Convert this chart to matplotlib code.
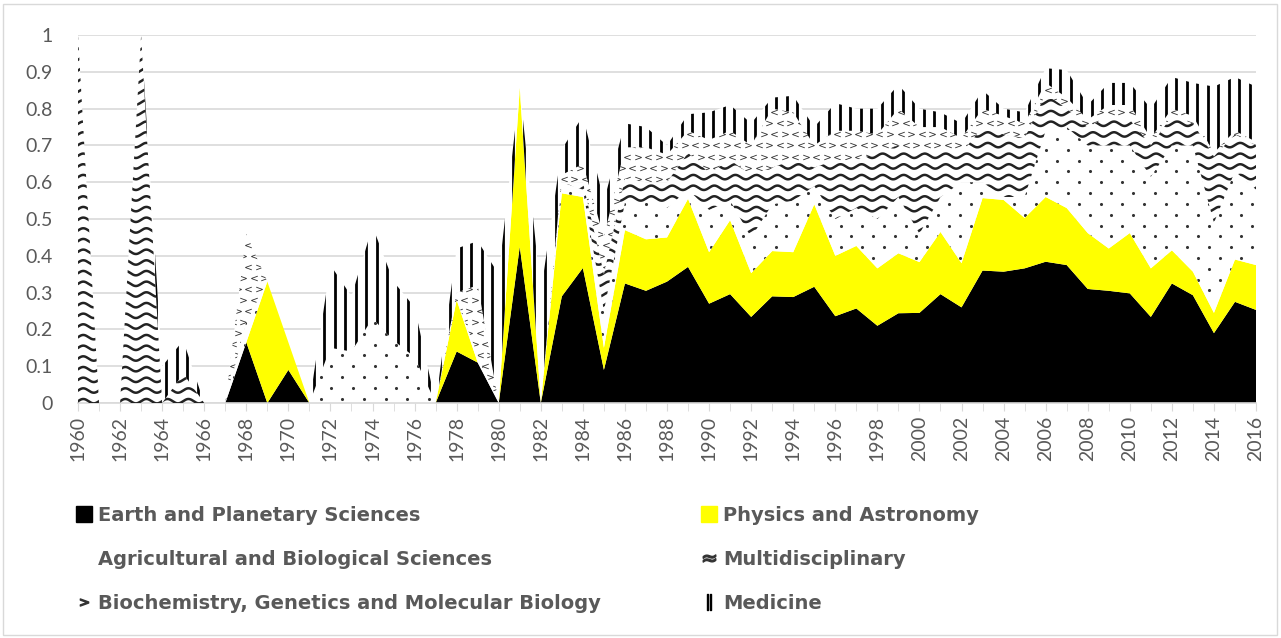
import numpy as np
import matplotlib
matplotlib.use("Agg")
import matplotlib.pyplot as plt
from matplotlib.lines import Line2D
from matplotlib.patches import Rectangle

# data (share of papers per year)
years = np.arange(1960, 2017)

earth = [0, 0, 0, 0, 0, 0, 0, 0, .165, 0, .09, 0, 0, 0, 0, 0, 0, 0, .14, .11,
         0, .425, 0, .29, .367, .09, .325, .305, .33, .37, .27, .296, .234, .29, .288, .316,
         .236, .257, .21, .244, .245, .296, .26, .36, .357, .366, .384, .375, .31, .305,
         .298, .234, .325, .293, .19, .275, .253]
physics = [0, 0, 0, 0, 0, 0, 0, 0, 0, .33, .075, 0, 0, 0, 0, 0, 0, 0, .14, 0,
           0, .431, 0, .28, .193, .06, .145, .14, .12, .185, .14, .201, .119, .123, .122, .224,
           .164, .17, .156, .163, .138, .169, .12, .197, .195, .137, .176, .155, .152, .115,
           .164, .132, .09, .064, .055, .115, .122]
agricultural = [0, 0, 0, 0, 0, 0, 0, 0, .055, 0, 0, 0, .15, .14, .23, .17, .125, 0, 0, .02,
                0, 0, 0, .03, .02, .10, .075, .10, .08, .025, .115, .053, .097, .127, .14, .05,
                .10, .103, .134, .153, .077, .095, .22, .043, .008, .057, .18, .22, .238, .28,
                .238, .249, .285, .343, .245, .24, .205]
multidisciplinary = [1, 0, 0, 1, 0, .08, 0, 0, 0, 0, 0, 0, 0, 0, 0, 0, 0, 0, 0, 0,
                     0, 0, 0, 0, .02, .10, .065, .055, .07, .10, .10, .11, .17, .10, .11, .05,
                     .16, .13, .18, .14, .22, .13, .08, .15, .17, .16, .10, .05, .05, .08,
                     .07, .085, .08, .06, .18, .10, .12]
biochemistry = [0, 0, 0, 0, 0, 0, 0, 0, .24, 0, 0, 0, 0, 0, 0, 0, 0, 0, .02, .19,
                0, 0, 0, .02, .05, .10, .085, .095, .075, .06, .09, .08, .08, .16, .13, .06,
                .08, .08, .05, .10, .07, .06, .04, .05, .05, .04, .03, .03, .02, .03,
                .04, .02, .02, .02, .01, .01, .01]
medicine = [0, 0, 0, 0, .10, .09, 0, 0, 0, 0, 0, 0, .225, .15, .25, .16, .135, 0, .12, .12,
            .35, 0, .30, .07, .13, .10, .065, .055, .025, .045, .075, .07, .06, .03, .045, .05,
            .075, .06, .07, .065, .05, .04, .04, .05, .02, .03, .04, .075, .04, .06,
            .06, .08, .086, .09, .18, .146, .15]

labels = ["Earth and Planetary Sciences", "Physics and Astronomy",
          "Agricultural and Biological Sciences", "Multidisciplinary",
          "Biochemistry, Genetics and Molecular Biology", "Medicine"]

grey = "#595959"
plt.rcParams["font.family"] = ["Lato", "DejaVu Sans"]

fig = plt.figure(figsize=(12.81, 6.38), dpi=100)
ax = fig.add_axes([0.0609, 0.3683, 0.9196, 0.5767])

polys = ax.stackplot(years, earth, physics, agricultural, multidisciplinary,
                     biochemistry, medicine,
                     colors=["black", "#ffff00", "white", "white", "white", "white"],
                     linewidth=0)

def clip_to(artist, poly):
    artist.set_clip_path(poly.get_paths()[0], ax.transData)

# Agricultural: staggered dot grid
pa = polys[2]
for k, y0 in enumerate(np.arange(0.012, 1.0, 0.0294)):
    xs = np.arange(1960.2 + (k % 2) * 0.515, 2016.5, 1.03)
    sc = ax.scatter(xs, np.full_like(xs, y0), s=5, color="#333333", linewidths=0, zorder=3)
    clip_to(sc, pa)

# Multidisciplinary: wavy lines
pm = polys[3]
xw = np.linspace(1960, 2016, 4000)
for y0 in np.arange(0.005, 1.03, 0.029):
    ln, = ax.plot(xw, y0 + 0.006 * np.sin(2 * np.pi * (xw - 1960)), color="#222222",
                  lw=1.8, zorder=3)
    clip_to(ln, pm)

# Biochemistry: little chevrons
pb = polys[4]
for k, y0 in enumerate(np.arange(0.01, 1.0, 0.03)):
    xs = np.arange(1960.1 + (k % 2) * 0.25, 2016.5, 0.5)
    for i, m in enumerate([r"$<$", r"$>$"]):
        sc = ax.scatter(xs[i::2], np.full(len(xs[i::2]), y0), marker=m, s=22,
                        color="#333333", linewidths=0, zorder=3)
        clip_to(sc, pb)

# Medicine: vertical stripes
pmed = polys[5]
vl = ax.vlines(np.arange(1960.2, 2016.5, 0.5), 0, 1.02, color="black", lw=2.0, zorder=3)
clip_to(vl, pmed)

ax.set_xlim(1960, 2016)
ax.set_ylim(0, 1)
ax.set_yticks(np.arange(0, 1.01, 0.1))
ax.set_yticklabels(["0", "0.1", "0.2", "0.3", "0.4", "0.5", "0.6", "0.7", "0.8", "0.9", "1"])
ax.set_xticks(np.arange(1960, 2017, 2))
ax.set_xticks(np.arange(1960, 2017, 1), minor=True)
ax.tick_params(axis="x", which="both", length=6, color="#d9d9d9", labelrotation=90,
               labelsize=14, labelcolor=grey, pad=3)
ax.tick_params(axis="y", length=0, labelsize=14, labelcolor=grey, pad=18)
ax.grid(axis="y", color="#d9d9d9", lw=1.2)
ax.set_axisbelow(True)
for s in ["left", "right", "top"]:
    ax.spines[s].set_visible(False)
ax.spines["bottom"].set_color("#d9d9d9")
ax.spines["bottom"].set_linewidth(1.2)

# legend, two columns placed separately
def h(**kw):
    return Line2D([], [], linestyle="none", **kw)

col1 = [h(marker="s", markersize=11.5, color="black"),
        h(marker="s", markersize=11.5, color="white"),
        h(marker=r"$>$", markersize=6, color="#333333")]
col2 = [h(marker="s", markersize=11.5, color="#ffff00"),
        h(marker=r"$\approx$", markersize=9, color="#333333"),
        h(marker=r"$\|$", markersize=11, color="black")]
lkw = dict(frameon=False, loc="upper left", borderaxespad=0, borderpad=0,
           handlelength=0.85, handletextpad=0.3, labelspacing=1.29,
           prop={"family": "DejaVu Sans", "weight": "bold", "size": 14}, labelcolor=grey)
leg1 = fig.legend(col1, [labels[0], labels[2], labels[4]],
                  bbox_to_anchor=(0.059, 0.207), **lkw)
leg2 = fig.legend(col2, [labels[1], labels[3], labels[5]],
                  bbox_to_anchor=(0.547, 0.207), **lkw)

fig.patches.append(Rectangle((0.002, 0.004), 0.995, 0.99, transform=fig.transFigure,
                             fill=False, edgecolor="#d9d9d9", lw=1))

fig.savefig("out.png", dpi=100)
